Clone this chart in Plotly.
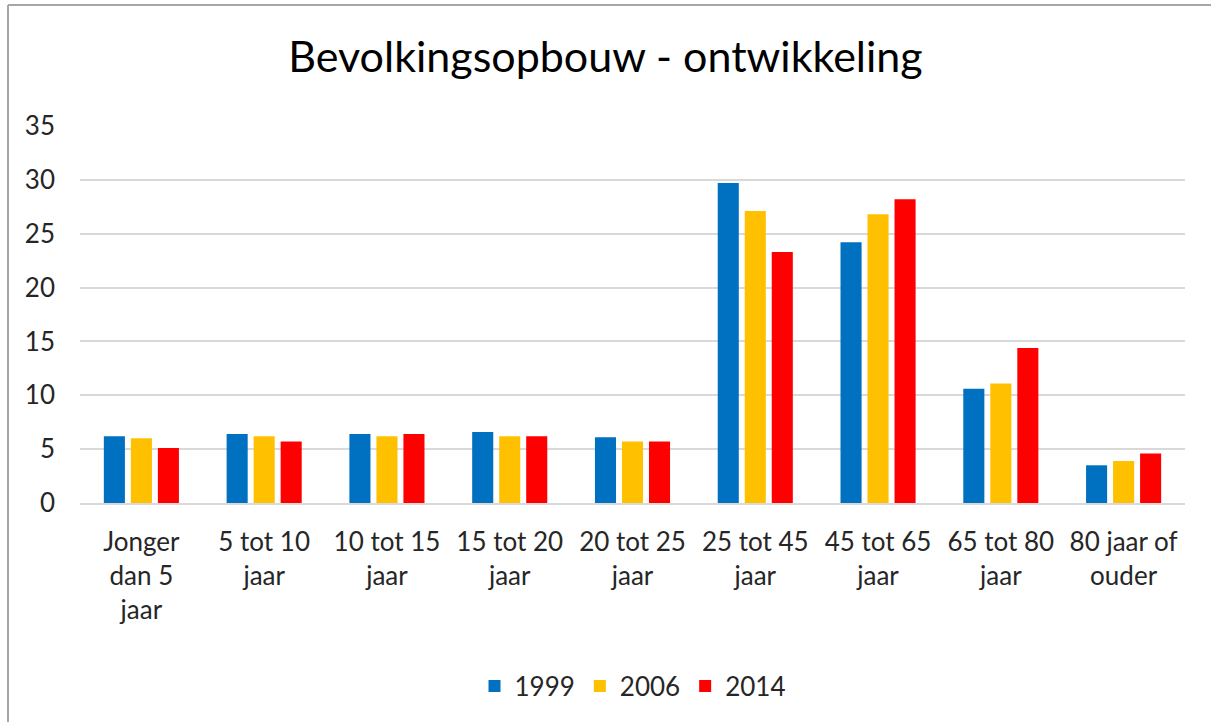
import plotly.graph_objects as go

categories = ["Jonger<br>dan 5<br>jaar", "5 tot 10<br>jaar", "10 tot 15<br>jaar", "15 tot 20<br>jaar",
              "20 tot 25<br>jaar", "25 tot 45<br>jaar", "45 tot 65<br>jaar", "65 tot 80<br>jaar",
              "80 jaar of<br>ouder"]
v1999 = [6.2, 6.4, 6.4, 6.6, 6.1, 29.7, 24.2, 10.6, 3.5]
v2006 = [6.0, 6.2, 6.2, 6.2, 5.7, 27.1, 26.8, 11.1, 3.9]
v2014 = [5.1, 5.7, 6.4, 6.2, 5.7, 23.3, 28.2, 14.4, 4.6]
years = ["1999", "2006", "2014"]
colors = ["#0070C0", "#FFC000", "#FF0000"]

fig = go.Figure()
for name, vals, col in zip(years, [v1999, v2006, v2014], colors):
    fig.add_trace(go.Bar(x=categories, y=vals, name=name, marker_color=col,
                         marker_line_width=0))

W, H = 1211, 722
l, r, t, b = 80, 26, 126, 219
pw, ph = W - l - r, H - t - b

def px(x):
    return (x - l) / pw

def py(y):
    return (H - b - y) / ph

frame = dict(color="#A6A6A6", width=2)
fig.add_shape(type="line", xref="paper", yref="paper",
              x0=px(8), x1=px(1212), y0=py(5), y1=py(5), line=frame)
fig.add_shape(type="line", xref="paper", yref="paper",
              x0=px(8), x1=px(8), y0=py(5), y1=py(723), line=frame)

fig.update_layout(
    width=W, height=H,
    margin=dict(l=l, r=r, t=t, b=b),
    paper_bgcolor="white", plot_bgcolor="white",
    font=dict(family="Lato, 'Open Sans', sans-serif", color="#262626", size=26),
    title=dict(text="Bevolkingsopbouw - ontwikkeling", x=0.5, xanchor="center",
               y=1 - 57 / H, yanchor="middle",
               font=dict(size=43, color="#000000")),
    barmode="group", bargap=0.34, bargroupgap=0.22,
    showlegend=True,
    legend=dict(orientation="h", x=0.5, xanchor="center", y=py(686), yanchor="middle",
                font=dict(size=26), itemwidth=30, traceorder="normal"),
    yaxis=dict(range=[0, 35], dtick=5, showgrid=True, gridcolor="#D9D9D9", gridwidth=1.5,
               zeroline=False, showline=False, ticks="", ticklabelstandoff=24),
    xaxis=dict(showline=True, linecolor="#D9D9D9", linewidth=1.5, ticks="",
               ticklabelstandoff=15, tickangle=0),
)

fig.write_html("out.html", config={"displayModeBar": False},
               post_script="document.body.style.margin='0';document.body.style.overflow='hidden';")
